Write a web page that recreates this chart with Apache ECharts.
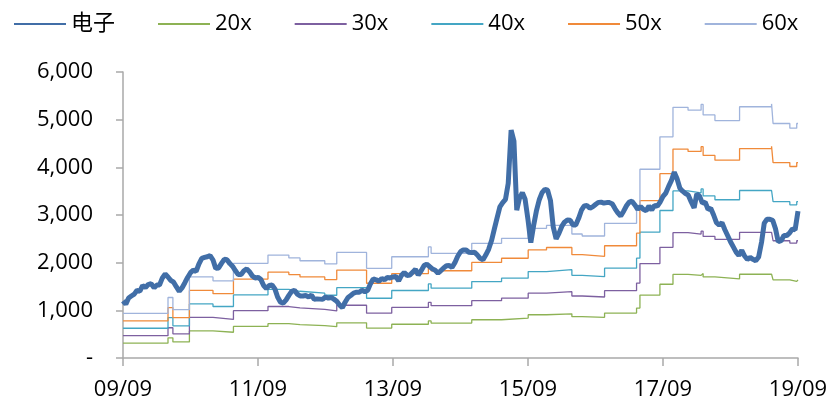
<!DOCTYPE html>
<html>
<head>
<meta charset="utf-8">
<script src="https://cdn.jsdelivr.net/npm/echarts@6/dist/echarts.min.js"></script>
<style>
html,body{margin:0;padding:0;background:#fff;}
#chart{width:831px;height:402px;}
</style>
</head>
<body>
<div id="chart"></div>
<script>
// 电子 index, semi-monthly observations (1st and 16th of each month), 2009-09-01 .. 2019-09-01
const dianzi = [
1200,1130,1260,1300,1340,1420,1400,1520,1480,1540,1560,1470,1530,1530,1680,1760,1700,1630,1590,1490,
1400,1470,1580,1690,1790,1845,1815,1970,2090,2110,2125,2150,2056,1880,1890,1990,2070,2060,1980,1920,
1830,1750,1750,1830,1870,1810,1720,1680,1690,1650,1520,1460,1520,1530,1450,1280,1170,1150,1220,1320,
1400,1420,1340,1300,1300,1310,1280,1320,1230,1240,1235,1230,1280,1255,1270,1235,1190,1110,1060,1170,
1270,1310,1360,1380,1380,1420,1390,1420,1560,1660,1640,1610,1670,1640,1690,1680,1700,1710,1620,1730,
1795,1730,1740,1800,1860,1741,1830,1940,1970,1920,1870,1840,1780,1830,1890,1935,1940,1900,2000,2130,
2230,2266,2266,2220,2210,2220,2160,2090,2060,2160,2280,2470,2700,2930,3170,3260,3330,3665,4780,4550,
3100,3350,3470,3330,2900,2420,2780,3080,3320,3470,3540,3520,3300,2750,2500,2620,2760,2850,2895,2890,
2790,2790,2930,3100,3190,3200,3140,3170,3220,3265,3270,3250,3260,3260,3230,3130,3040,2980,3080,3200,
3270,3290,3210,3120,3180,3120,3090,3190,3105,3200,3185,3270,3390,3460,3600,3720,3900,3760,3560,3500,
3450,3420,3280,3150,3440,3400,3250,3270,3120,3140,3000,2840,2790,2840,2690,2570,2440,2330,2220,2150,
2260,2140,2070,2110,2070,2040,2120,2440,2830,2910,2910,2890,2710,2440,2460,2570,2570,2620,2710,2690,
3080
];

// PE band lines: dates at which the band level changes, and level from that date on
const bandDates = [
'2009-09-01','2010-05-01','2010-05-28','2010-08-26','2011-01-01','2011-04-20','2011-10-25','2012-02-15',
'2012-04-15','2012-08-28','2012-11-01','2013-04-10','2013-08-25','2014-03-10','2014-03-25','2014-11-01',
'2015-04-10','2015-09-02','2015-12-10','2016-04-25','2016-06-20','2016-10-20','2017-04-10','2017-04-28',
'2017-08-15','2017-10-25','2018-01-15','2018-03-25','2018-04-05','2018-06-08','2018-10-20','2019-04-10',
'2019-04-18','2019-07-18','2019-08-25','2019-09-01'
];
const pe20 = [312,423,338,567,540,662,720,700,680,658,738,627,708,777,732,802,837,907,927,867,853,942,1047,1320,1547,1753,1733,1773,1700,1660,1757,1777,1640,1607,1640,1640];
const pe30 = [468,635,507,851,810,993,1080,1050,1020,987,1107,941,1062,1166,1098,1203,1256,1361,1391,1301,1280,1413,1571,1980,2321,2630,2600,2660,2550,2490,2636,2666,2460,2411,2460,2460];
const pe40 = [624,846,676,1134,1080,1324,1440,1400,1360,1316,1476,1254,1416,1554,1464,1604,1674,1814,1854,1734,1706,1884,2094,2640,3094,3506,3466,3546,3400,3320,3514,3554,3280,3214,3280,3280];
const pe50 = [780,1058,845,1418,1350,1655,1800,1750,1700,1645,1845,1568,1770,1943,1830,2005,2093,2268,2318,2168,2133,2355,2618,3300,3868,4383,4333,4433,4250,4150,4393,4443,4100,4018,4100,4100];
const pe60 = [936,1269,1014,1701,1620,1986,2160,2100,2040,1974,2214,1881,2124,2331,2196,2406,2511,2721,2781,2601,2559,2826,3141,3960,4641,5259,5199,5319,5100,4980,5271,5331,4920,4821,4920,4920];

const seriesNames = ['电子','20x','30x','40x','50x','60x'];
const startDate = '2009-09-01';   // x axis origin (label 09/09)
const endDate = '2019-09-01';     // x axis end (label 19/09)
const yTicks = [0,1000,2000,3000,4000,5000,6000];

// semi-monthly observation dates (1st and 16th)
const obsDates = [];
for (let k = 0; k < dianzi.length; k++) {
  const mi = 8 + Math.floor(k / 2);
  const y = 2009 + Math.floor(mi / 12);
  const m = (mi % 12) + 1;
  const d = (k % 2) ? 16 : 1;
  obsDates.push(y + '-' + String(m).padStart(2,'0') + '-' + String(d).padStart(2,'0'));
}
// date string -> months elapsed since startDate (fractional)
const s0 = startDate.split('-').map(Number);
function toMonths(s){
  const p = s.split('-').map(Number);
  const dim = new Date(p[0], p[1], 0).getDate();
  return (p[0]-s0[0])*12 + (p[1]-s0[1]) + (p[2]-1)/dim;
}

const colors = ['#416EA7','#8DB254','#7D60A0','#44A6C4','#F08A3A','#A0B4DC'];
const bands = [pe20, pe30, pe40, pe50, pe60];
const FONT = '"Open Sans", "Noto Sans CJK SC", sans-serif';

const series = [{
  name: seriesNames[0], type: 'line', z: 5, symbol: 'none', showSymbol: false,
  lineStyle: { color: colors[0], width: 5 }, itemStyle: { color: colors[0] },
  data: obsDates.map((d, i) => [toMonths(d), dianzi[i]])
}];
bands.forEach((arr, j) => {
  series.push({
    name: seriesNames[j+1], type: 'line', step: 'end', z: 2, symbol: 'none', showSymbol: false,
    lineStyle: { color: colors[j+1], width: 1.3 }, itemStyle: { color: colors[j+1] },
    data: bandDates.map((d, i) => [toMonths(d), arr[i]])
  });
});

const chart = echarts.init(document.getElementById('chart'), null, { renderer: 'canvas' });
chart.setOption({
  animation: false,
  backgroundColor: '#fff',
  legend: {
    data: seriesNames,
    left: 8, top: 8,
    itemWidth: 52, itemHeight: 14, itemGap: 42,
    itemStyle: { opacity: 0 },
    textStyle: { fontFamily: FONT, fontSize: 22, color: '#000' }
  },
  grid: { left: 123, right: 33, top: 72, bottom: 44 },
  xAxis: {
    type: 'value',
    min: 0, max: toMonths(endDate), interval: 24,
    splitLine: { show: false },
    axisLine: { lineStyle: { color: '#A9A9A9', width: 1.5 } },
    axisTick: { show: true, length: 8, lineStyle: { color: '#A9A9A9', width: 1.5 } },
    axisLabel: {
      margin: 21, fontFamily: FONT, fontSize: 22, color: '#000',
      showMinLabel: true, showMaxLabel: true,
      formatter: function (v) {
        const mi = s0[1] - 1 + Math.round(v);
        const y = s0[0] + Math.floor(mi / 12);
        const m = (mi % 12) + 1;
        return String(y).slice(2) + '/' + String(m).padStart(2,'0');
      }
    }
  },
  yAxis: {
    type: 'value', min: yTicks[0], max: yTicks[yTicks.length-1], interval: 1000,
    splitLine: { show: false },
    axisLine: { show: true, lineStyle: { color: '#A9A9A9', width: 1.5 } },
    axisTick: { show: true, length: 7, lineStyle: { color: '#A9A9A9', width: 1.5 } },
    axisLabel: {
      margin: 30, fontFamily: FONT, fontSize: 22, color: '#000',
      formatter: function (v) { return v === 0 ? '-' : v.toLocaleString('en-US'); }
    }
  },
  series: series
});
</script>
</body>
</html>
